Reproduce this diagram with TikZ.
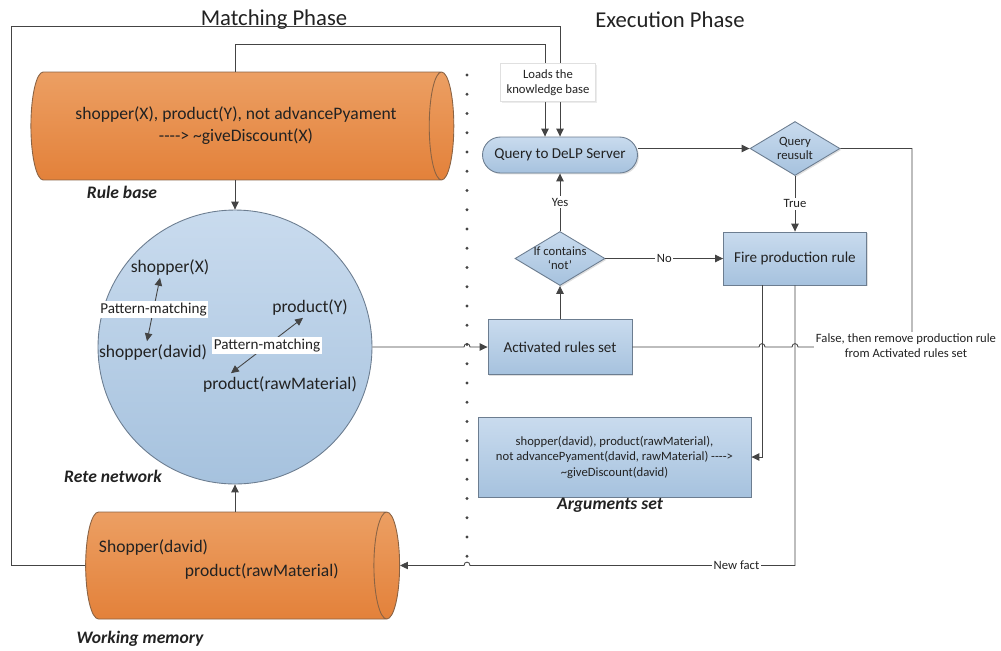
\documentclass[tikz,border=0pt]{standalone}
\usepackage{fontspec}
\setmainfont{Carlito}
\usepackage{tikz}
\usetikzlibrary{shapes.geometric, arrows.meta, positioning, calc, shadows}

\definecolor{orangetop}{HTML}{EC9F63}
\definecolor{orangebot}{HTML}{E3813A}
\definecolor{orangeline}{HTML}{8A6344}
\definecolor{bluetop}{HTML}{C9DBEE}
\definecolor{bluebot}{HTML}{A6C2DE}
\definecolor{blueline}{HTML}{6C7D90}
\definecolor{linegray}{HTML}{444444}
\definecolor{textgray}{HTML}{222222}

\tikzset{
  store/.style={cylinder, draw=orangeline, line width=0.5pt, top color=orangetop, bottom color=orangebot, shape aspect=0.65, inner sep=0pt, text=textgray},
  procbox/.style={rectangle, draw=blueline, line width=0.5pt, top color=bluetop, bottom color=bluebot, align=center, text=textgray, font=\fontsize{8.6}{10}\selectfont, drop shadow={shadow xshift=0.8pt, shadow yshift=-0.8pt, opacity=0.25}},
  decide/.style={diamond, draw=blueline, line width=0.5pt, top color=bluetop, bottom color=bluebot, inner sep=0pt, minimum width=1.8cm, minimum height=1.08cm, drop shadow={shadow xshift=0.8pt, shadow yshift=-0.8pt, opacity=0.25}},
  dtext/.style={align=center, text=textgray, font=\fontsize{7.2}{8}\selectfont},
  fact/.style={inner sep=1.5pt, text=textgray, font=\fontsize{10}{12}\selectfont},
  boldcap/.style={text=textgray, font=\fontsize{10}{12}\selectfont\bfseries\itshape},
  conn/.style={draw=linegray, line width=0.5pt, -{Triangle[length=4.5pt,width=4.2pt]}},
  biconn/.style={draw=linegray, line width=0.5pt, {Triangle[length=4.5pt,width=4.2pt]}-{Triangle[length=4.5pt,width=4.2pt]}},
  wire/.style={draw=linegray, line width=0.5pt},
  lbl/.style={fill=white, inner sep=1pt, text=textgray, align=center, font=\fontsize{7.2}{8.5}\selectfont},
}

\begin{document}
\begin{tikzpicture}[x=0.02cm, y=-0.02cm,
  kbnote/.style={draw=black!12, fill=white, minimum width=1.88cm, minimum height=0.7cm, align=center, text=textgray, font=\fontsize{7.2}{8.5}\selectfont, drop shadow={shadow xshift=0.8pt, shadow yshift=-0.8pt, opacity=0.15}}
]
  \useasboundingbox (0,0) rectangle (1001,650);

  % phase titles
  \node[text=textgray, font=\fontsize{12.9}{14}\selectfont] (matchtitle) at (274,20) {Matching Phase};
  \node[text=textgray, font=\fontsize{12.9}{14}\selectfont] (exectitle) at (670,20) {Execution Phase};

  % dotted separator
  \coordinate (sep) at (467,0);
  \foreach \k in {0,...,25}
    \fill[linegray] (467,75+19.25*\k) circle (0.9pt);

  % matching side
  \node[store, minimum width=2.16cm, minimum height=8.46cm, align=center, font=\fontsize{10}{12.5}\selectfont] (rulebase) at (236,126)
    {shopper(X), product(Y), not advancePyament\\-{}-{}-{}-{}> \textasciitilde giveDiscount(X)};
  \node[boldcap] (rbname) at (122,192) {Rule base};

  \node[circle, draw=blueline, line width=0.5pt, top color=bluetop, bottom color=bluebot, minimum size=5.48cm, inner sep=0pt] (rete) at (235,347) {};
  \node[boldcap] (retename) at (113,476) {Rete network};

  \node[fact] (sx) at (170,267) {shopper(X)};
  \node[fact] (sd) at (153,352) {shopper(david)};
  \node[fact] (py) at (310,307) {product(Y)};
  \node[fact] (pr) at (280,384) {product(rawMaterial)};
  \draw[biconn] ($(sx.south)+(-10,0)$) -- node[lbl, font=\fontsize{8.6}{10}\selectfont] {Pattern-matching} ($(sd.north)+(-6,0)$);
  \draw[biconn] ($(py.south)+(-7,0)$) -- node[lbl, font=\fontsize{8.6}{10}\selectfont] {Pattern-matching} ($(pr.north)+(-49,0)$);

  \node[store, inner ysep=11.25pt, minimum width=2.14cm, minimum height=6.28cm] (memory) at (231,565.5) {};
  \node[fact, anchor=west] (wm1) at (96,547) {Shopper(david)};
  \node[fact, anchor=west] (wm2) at (182,571) {product(rawMaterial)};
  \node[boldcap] (wmname) at (140,639) {Working memory};

  % execution side
  \node[procbox, rounded corners=0.36cm, minimum width=3.1cm, minimum height=0.72cm] (query) at (560,155) {Query to DeLP Server};
  \node[decide, label={[dtext]center:{Query\\reusult}}] (qres) at (795,148.5) {};
  \node[decide, label={[dtext]center:{If contains\\`not'}}] (cont) at (560,258.5) {};
  \node[procbox, minimum width=2.86cm, minimum height=1.06cm] (fire) at (795,258.5) {Fire production rule};
  \node[procbox, minimum width=2.88cm, minimum height=1.1cm] (act) at (560,347) {Activated rules set};
  \node[procbox, minimum width=5.46cm, minimum height=1.6cm, font=\fontsize{7.2}{8.8}\selectfont] (args) at (614.5,457)
    {shopper(david), product(rawMaterial),\\not advancePyament(david, rawMaterial) -{}-{}-{}-{}>\\\textasciitilde giveDiscount(david)};
  \node[boldcap] (argname) at (610,505) {Arguments set};

  \coordinate (fireleft) at ($(fire.south)+(-33,0)$);
  \coordinate (falsecorner) at (912,347);

  % connectors
  \draw[conn] (rulebase.north -| rete.north) -- ++(0,-27) -| ($(query.north)+(-15,0)$);
  \draw[conn] (memory.west) -- ++(-74,0) -- ++(0,-539) -| (query.north);
  \draw[conn] (rulebase.south -| rete.north) -- (rete.north);
  \draw[conn] (memory.north -| rete.south) -- (rete.south);
  \draw[conn] (rete.east) -- ($(rete.east -| sep)+(-3,0)$)
    .. controls +(0,-4.5) and +(0,-4.5) .. ++(6,0) -- (act.west);
  \draw[conn] (act.north) -- (cont.south);
  \draw[conn] (cont.north) -- node[lbl] {Yes} (query.south);
  \draw[conn] (cont.east) -- node[lbl] {No} (fire.west);
  \draw[conn] (query.east |- qres.west) -- (qres.west);
  \draw[conn] (qres.south) -- node[lbl] {True} (fire.north);
  \draw[wire] (qres.east) -| (falsecorner) -- ($(fire.south |- falsecorner)+(3,0)$)
    .. controls +(0,-4.5) and +(0,-4.5) .. ++(-6,0)
    -- ($(fireleft |- falsecorner)+(3,0)$)
    .. controls +(0,-4.5) and +(0,-4.5) .. ++(-6,0)
    -- (act.east);
  \node[lbl] (falselbl) at (906,346) {False, then remove production rule\\from Activated rules set};
  \draw[conn] (fireleft) |- (args.east);
  \draw[conn] (fire.south) |- ($(sep |- memory.east)+(3,0)$) node[pos=0.59, lbl] {New fact}
    .. controls +(0,-4.5) and +(0,-4.5) .. ++(-6,0) -- (memory.east);

  \node[kbnote] (loads) at (548,82.5) {Loads the\\knowledge base};
\end{tikzpicture}
\end{document}
